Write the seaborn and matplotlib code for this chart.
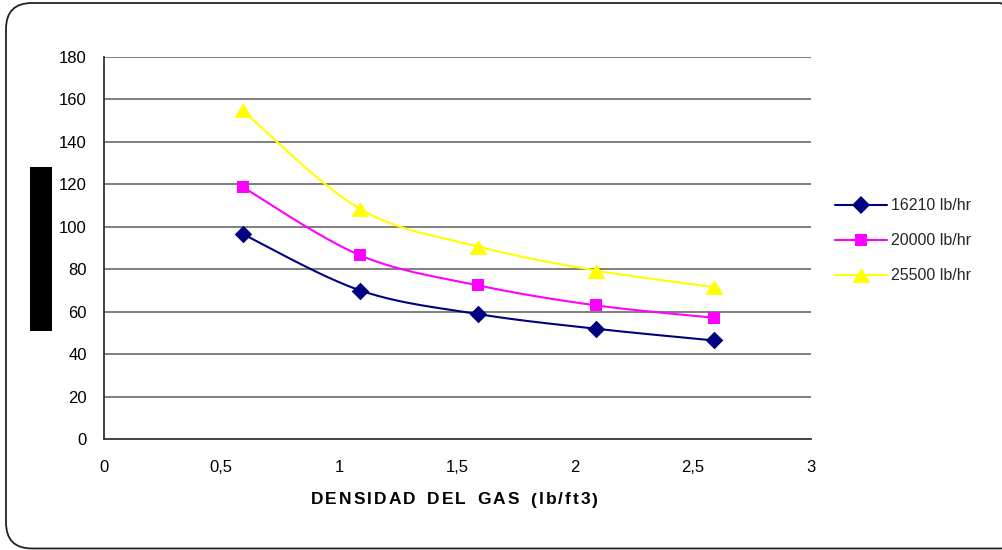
import numpy as np
import pandas as pd
import matplotlib
matplotlib.use("Agg")
import matplotlib.pyplot as plt
import seaborn as sns
from matplotlib.patches import FancyBboxPatch, Rectangle
from matplotlib.lines import Line2D
from matplotlib.path import Path
from matplotlib.transforms import IdentityTransform
from matplotlib.font_manager import FontProperties

# Gas density (lb/ft3) and the three mass-flow series
density = [0.59, 1.09, 1.59, 2.09, 2.59]
flow_16210 = [96.6, 70.0, 58.9, 52.0, 46.5]
flow_20000 = [118.7, 86.5, 72.4, 63.0, 57.2]
flow_25500 = [154.7, 108.3, 90.7, 79.4, 71.6]
series_labels = ["16210 lb/hr", "20000 lb/hr", "25500 lb/hr"]

x_ticks = [0, 0.5, 1, 1.5, 2, 2.5, 3]
x_tick_labels = ["0", "0,5", "1", "1,5", "2", "2,5", "3"]
y_ticks = [0, 20, 40, 60, 80, 100, 120, 140, 160, 180]
x_title = "DENSIDAD DEL GAS (lb/ft3)"


def smooth_curve(xs, ys, n=40):
    """Bezier smoothing through every point (spreadsheet-style smoothed line)."""
    p = np.column_stack([xs, ys]).astype(float)
    ext = np.vstack([p[0], p, p[-1]])
    t = np.linspace(0, 1, n)[:, None]
    out = []
    for i in range(len(p) - 1):
        p0, p3 = ext[i + 1], ext[i + 2]
        c1 = p0 + (ext[i + 2] - ext[i]) / 6.0
        c2 = p3 - (ext[i + 3] - ext[i + 1]) / 6.0
        seg = ((1 - t) ** 3) * p0 + 3 * ((1 - t) ** 2) * t * c1 + 3 * (1 - t) * t ** 2 * c2 + t ** 3 * p3
        out.append(seg if i == 0 else seg[1:])
    out = np.vstack(out)
    return out[:, 0], out[:, 1]


sns.set_theme(style="white")
plt.rcParams["font.family"] = ["Liberation Sans", "DejaVu Sans"]

W, H = 1003, 550
fig = plt.figure(figsize=(W / 100, H / 100), dpi=100)
fig.patch.set_facecolor("white")
ax = fig.add_axes([0.1032, 0.2013, 0.7049, 0.6956])

triangle = Path([(0, 0.82), (-1, -0.82), (1, -0.82), (0, 0.82)],
                [Path.MOVETO, Path.LINETO, Path.LINETO, Path.CLOSEPOLY])

styles = [
    (flow_16210, "#000080", "D", 80),
    (flow_20000, "#FF00FF", "s", 85),
    (flow_25500, "#FFFF00", triangle, 170),
]

handles = []
for (vals, color, marker, size), label in zip(styles, series_labels):
    sx, sy = smooth_curve(density, vals)
    curve = pd.DataFrame({"x": sx, "y": sy})
    sns.lineplot(data=curve, x="x", y="y", sort=False, estimator=None,
                 color=color, linewidth=1.5, ax=ax, zorder=3)
    pts = pd.DataFrame({"x": density, "y": vals})
    sns.scatterplot(data=pts, x="x", y="y", marker=marker, s=size,
                    color=color, edgecolor=color, linewidth=0, ax=ax, zorder=4)
    handles.append(Line2D([], [], color=color, linewidth=1.5, marker=marker,
                          markersize=np.sqrt(size), markeredgewidth=0,
                          markerfacecolor=color, label=label))

ax.set_xlim(0, 3)
ax.set_ylim(0, 180)
ax.set_xticks(x_ticks)
ax.set_xticklabels(x_tick_labels)
ax.set_yticks(y_ticks)
ax.set_xlabel("")
ax.set_ylabel("")

ax.grid(False)
for yv in y_ticks[1:]:
    ax.axhline(yv, color="#6a6a6a", linewidth=1.2, zorder=1)

for side in ["top", "right"]:
    ax.spines[side].set_visible(False)
for side in ["left", "bottom"]:
    ax.spines[side].set_color("#333333")
    ax.spines[side].set_linewidth(1.3)

ax.tick_params(axis="both", which="major", direction="out", length=5, width=1.2,
               color="#333333", labelsize=12, labelcolor="black")
ax.tick_params(axis="x", pad=10)
ax.tick_params(axis="y", pad=7)

# Letter-spaced bold axis title, laid out one character at a time
renderer = fig.canvas.get_renderer()
title_font = FontProperties(family=["Liberation Sans", "DejaVu Sans"], weight="bold", size=12.5)


def advance(s):
    t = fig.text(0, 0, s + "|", fontproperties=title_font)
    width = t.get_window_extent(renderer).width
    t.remove()
    return width


letter_gap, word_gap = 2.0, 3.0
bar_w = advance("")
offsets, x = [], 0.0
for i, ch in enumerate(x_title):
    offsets.append(advance(x_title[:i]) - bar_w + x)
    x += letter_gap + (word_gap if ch == " " else 0.0)
total = advance(x_title) - bar_w + x - letter_gap
left_px = 454.5 - total / 2
for ch, off in zip(x_title, offsets):
    if ch != " ":
        fig.text((left_px + off) / W, 1 - 500 / H, ch, fontproperties=title_font,
                 ha="left", va="center", color="black")

fig.legend(handles=handles, loc="center left",
           bbox_to_anchor=(835 / W, 1 - 240.7 / H),
           frameon=False, fontsize=11.5, handlelength=3.25, handletextpad=0.25,
           labelspacing=1.25, borderpad=0, borderaxespad=0)

# Black block beside the value axis
fig.patches.append(Rectangle((30, H - 331), 22, 164, transform=IdentityTransform(),
                             facecolor="black", edgecolor="none", zorder=5))

# Rounded chart-area border
fig.patches.append(FancyBboxPatch((6, 1.5), 1020, 545.5,
                                  boxstyle="round,pad=0,rounding_size=26",
                                  transform=IdentityTransform(), facecolor="none",
                                  edgecolor="#222222", linewidth=1.3, zorder=6))

fig.savefig("out.png", dpi=100, facecolor="white")
